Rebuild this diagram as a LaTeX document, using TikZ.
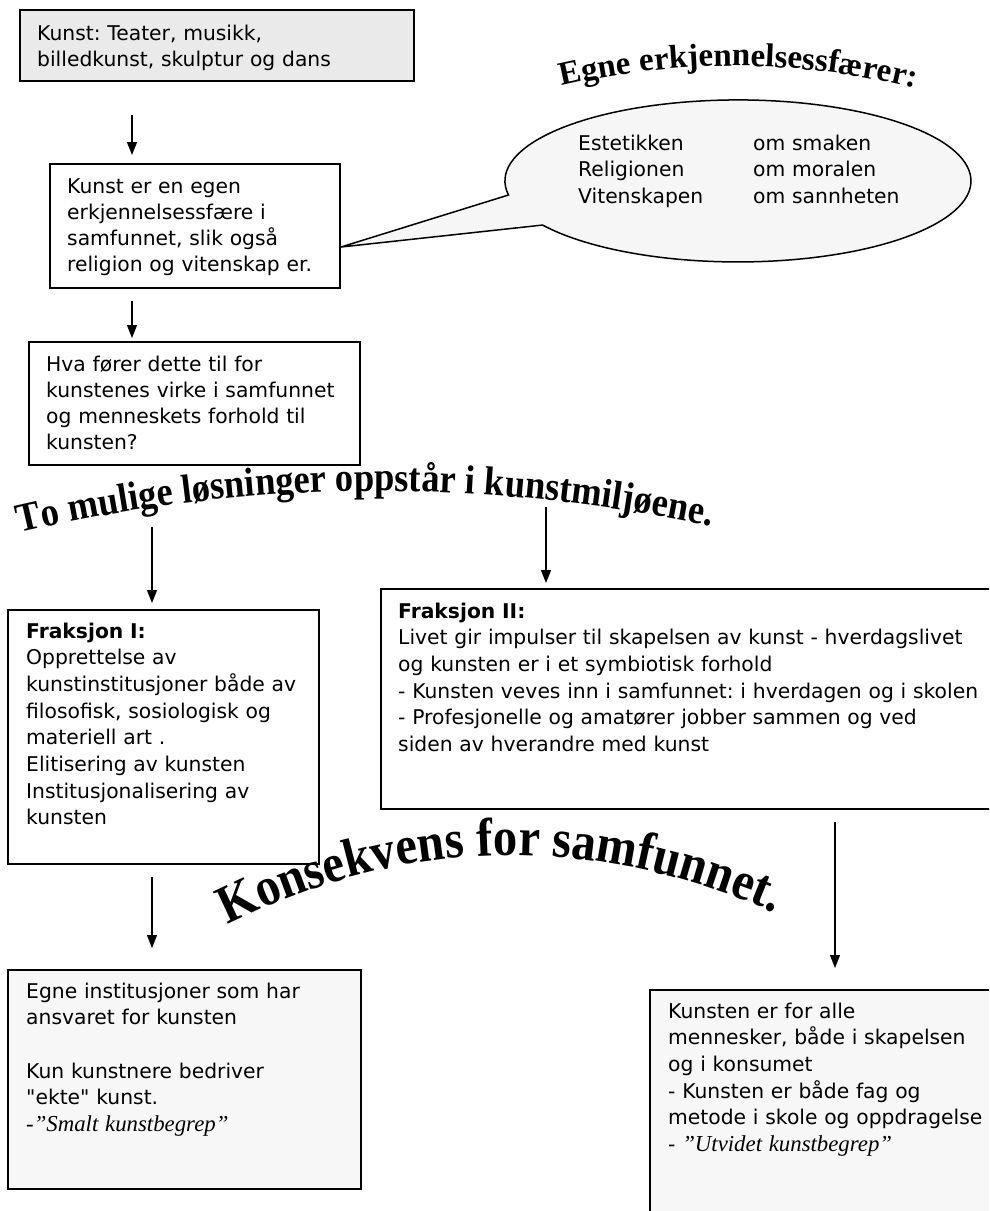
\documentclass[tikz,border=0pt]{standalone}
\usepackage{fontspec}
\setmainfont{DejaVu Sans}
\newfontfamily\plainsans{DejaVu Sans}
\newfontfamily\seriffam{Liberation Serif}
\newfontfamily\wafont{Liberation Serif}[FakeStretch=0.9]
\usetikzlibrary{arrows.meta,decorations.text}
\definecolor{boxgray}{HTML}{EAEAEA}
\definecolor{bubblegray}{HTML}{F6F6F6}
\definecolor{palegray}{HTML}{F7F7F7}
\frenchspacing
\newcommand\bodyA{\frenchspacing\fontsize{20.3}{26}\selectfont}
\newcommand\bodyB{\frenchspacing\fontsize{20.3}{26.7}\selectfont}
\newcommand\bodyC{\frenchspacing\fontsize{20.3}{26.5}\selectfont}
\newcommand\itserif{\seriffam\itshape\fontsize{22.8}{26.7}\selectfont}
\newcommand\sq{{\plainsans"}}
\newcommand\wordartE{\seriffam\bfseries\fontsize{33}{33}\selectfont}
\newcommand\wordartT{\wafont\bfseries\fontsize{40.5}{40.5}\selectfont}
\newcommand\wordartK{\wafont\bfseries\fontsize{54}{54}\selectfont}
\tikzset{
  box/.style={draw, line width=1.8pt, rectangle, inner sep=0pt, anchor=north west},
  txtA/.style={anchor=base west, inner sep=0pt, align=left, text width=#1, font=\bodyA},
  txtB/.style={anchor=base west, inner sep=0pt, align=left, text width=#1, font=\bodyB},
  txtC/.style={anchor=base west, inner sep=0pt, align=left, text width=#1, font=\bodyC},
  arr/.style={-{Triangle[width=10pt,length=13pt]}, line width=1.3pt},
}
\begin{document}
\begin{tikzpicture}[x=1pt,y=-1pt]
\useasboundingbox (0,0) rectangle (989,1211);
\clip (0,0) rectangle (989,1211);
\fill[white] (0,0) rectangle (989,1211);

% boxes
\node[box, fill=boxgray, minimum width=394pt, minimum height=71pt] (b1) at (19,9) {};
\node[box, minimum width=290pt, minimum height=124pt] (b2) at (49,163) {};
\node[box, minimum width=331pt, minimum height=123pt] (b3) at (28,341) {};
\node[box, minimum width=311pt, minimum height=254pt] (f1) at (7,609) {};
\node[box, minimum width=615pt, minimum height=220pt] (f2) at (380,588) {};
\node[box, fill=palegray, minimum width=353pt, minimum height=219pt] (k1) at (7,969) {};
\node[box, fill=palegray, minimum width=350pt, minimum height=260pt] (k2) at (649,989) {};

% speech bubble
\filldraw[fill=bubblegray, line width=1.5pt] (508.5,195) arc[start angle=170, end angle=507, x radius=233, y radius=81] -- (341,247) -- cycle;

% texts
\node[txtA=380pt] (t1) at (37,40) {Kunst: Teater, musikk,\\billedkunst, skulptur og dans};
\node[txtA=280pt] (t2) at (67,193) {Kunst er en egen\\erkjennelsessfære i\\samfunnet, slik også\\religion og vitenskap er.};
\node[txtA=320pt] (t3) at (46,371) {Hva fører dette til for\\kunstenes virke i samfunnet\\og menneskets forhold til\\kunsten?};
\node[txtC=160pt] (e1) at (578,150) {Estetikken\\Religionen\\Vitenskapen};
\node[txtC=180pt] (e2) at (753,150) {om smaken\\om moralen\\om sannheten};
\node[txtB=300pt] (tf1) at (26,638) {\textbf{Fraksjon I:}\\Opprettelse av\\kunstinstitusjoner både av\\filosofisk, sosiologisk og\\materiell art .\\Elitisering av kunsten\\Institusjonalisering av\\kunsten};
\node[txtB=620pt] (tf2) at (398,618) {\textbf{Fraksjon II:}\\Livet gir impulser til skapelsen av kunst - hverdagslivet\\og kunsten er i et symbiotisk forhold\\- Kunsten veves inn i samfunnet: i hverdagen og i skolen\\- Profesjonelle og amatører jobber sammen og ved\\siden av hverandre med kunst};
\node[txtB=330pt] (tk1) at (26,998) {Egne institusjoner som har\\ansvaret for kunsten\\[26.7pt]Kun kunstnere bedriver\\\sq ekte\sq{} kunst.\\{\itserif -”Smalt kunstbegrep”}};
\node[txtB=320pt] (tk2) at (668,1018) {Kunsten er for alle\\mennesker, både i skapelsen\\og i konsumet\\- Kunsten er både fag og\\metode i skole og oppdragelse\\- {\itserif ”Utvidet kunstbegrep”}};

% word-art headings
\path[decorate, decoration={text along path, text align=left,
  text={|\wordartE|Egne erkjennelsessfærer:}}]
  (562,86) .. controls (679,59) and (796,59) .. (913,88) -- ++(40,12);
\path[decorate, decoration={text along path, text align=left,
  text={|\wordartT|To mulige løsninger oppstår i kunstmiljøene.}}]
  (20,533) .. controls (252,478) and (484,478) .. (716,527) -- ++(40,14);
\path[decorate, decoration={text along path, text align=left,
  text={|\wordartK|Konsekvens for samfunnet.}}]
  (228,925) .. controls (410,834) and (593,834) .. (775,913) -- ++(40,18);

% arrows
\coordinate (a1s) at (132,115); \coordinate (a1e) at (132,155);
\coordinate (a2s) at (132,301); \coordinate (a2e) at (132,338);
\coordinate (a3s) at (152,527); \coordinate (a3e) at (152,603);
\coordinate (a4s) at (546,507); \coordinate (a4e) at (546,583);
\coordinate (a5s) at (152,877); \coordinate (a5e) at (152,948);
\coordinate (a6s) at (835,822); \coordinate (a6e) at (835,968);
\draw[arr] (a1s) -- (a1e);
\draw[arr] (a2s) -- (a2e);
\draw[arr] (a3s) -- (a3e);
\draw[arr] (a4s) -- (a4e);
\draw[arr] (a5s) -- (a5e);
\draw[arr] (a6s) -- (a6e);
\end{tikzpicture}
\end{document}
